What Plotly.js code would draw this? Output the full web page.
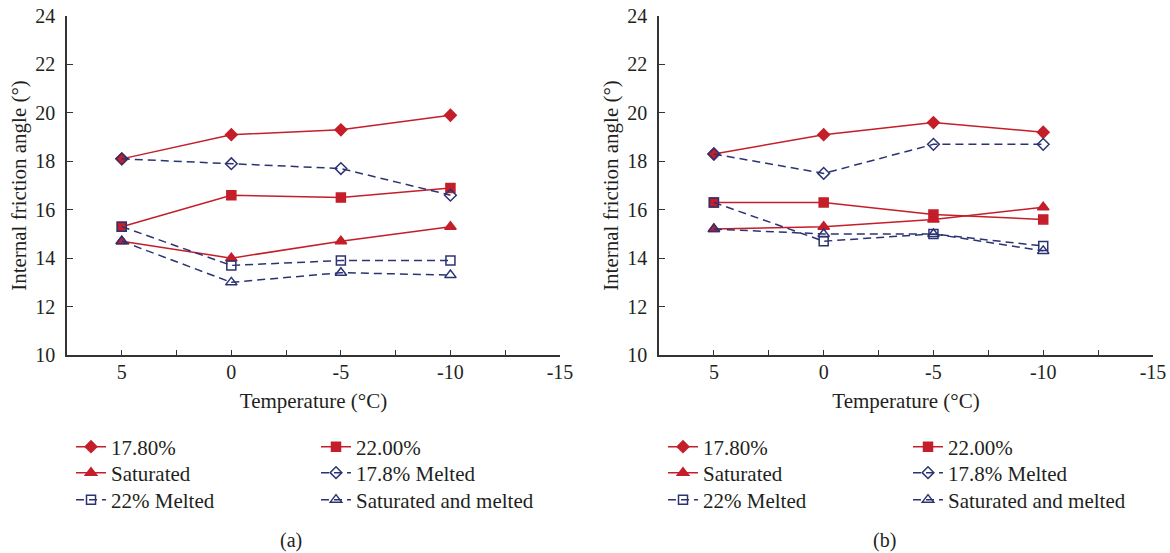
<!DOCTYPE html>
<html>
<head>
<meta charset="utf-8">
<script src="https://cdn.plot.ly/plotly-3.0.1.min.js"></script>
<style>
  html, body { margin: 0; padding: 0; background: #ffffff; }
  #chart { width: 1170px; height: 553px; }
</style>
</head>
<body>
<div id="chart"></div>
<script>
// ---- data ----
const temperatures = [5, 0, -5, -10];
const seriesNames = ["17.80%", "22.00%", "Saturated", "17.8% Melted", "22% Melted", "Saturated and melted"];

// panel (a)
const a_178 = [18.1, 19.1, 19.3, 19.9];
const a_220 = [15.3, 16.6, 16.5, 16.9];
const a_sat = [14.7, 14.0, 14.7, 15.3];
const a_178m = [18.1, 17.9, 17.7, 16.6];
const a_22m = [15.3, 13.7, 13.9, 13.9];
const a_satm = [14.7, 13.0, 13.4, 13.3];

// panel (b)
const b_178 = [18.3, 19.1, 19.6, 19.2];
const b_220 = [16.3, 16.3, 15.8, 15.6];
const b_sat = [15.2, 15.3, 15.6, 16.1];
const b_178m = [18.3, 17.5, 18.7, 18.7];
const b_22m = [16.3, 14.7, 15.0, 14.5];
const b_satm = [15.2, 15.0, 15.0, 14.3];

const xTickVals = [5, 0, -5, -10, -15];
const xTickText = ["5", "0", "-5", "-10", "-15"];
const yTickVals = [10, 12, 14, 16, 18, 20, 22, 24];

// ---- styles ----
const RED = "#c41e2a";
const NAVY = "#2b3372";
const TXT = "#231f20";
const FONT = "Liberation Serif";

const styles = [
  {color: RED, dash: "solid", symbol: "diamond", size: 9},
  {color: RED, dash: "solid", symbol: "square", size: 9},
  {color: RED, dash: "solid", symbol: "triangle-up", size: 10},
  {color: NAVY, dash: "8px,5px", symbol: "diamond-open", size: 9},
  {color: NAVY, dash: "8px,5px", symbol: "square-open", size: 9},
  {color: NAVY, dash: "8px,5px", symbol: "triangle-up-open", size: 10}
];

const panelA = [a_178, a_220, a_sat, a_178m, a_22m, a_satm];
const panelB = [b_178, b_220, b_sat, b_178m, b_22m, b_satm];

// legend rows: row index for each series (0..2), 2 items per row
const rowOf = [0, 0, 1, 1, 2, 2];

const traces = [];
function addPanel(values, xa, ya, legendBase) {
  values.forEach((vals, i) => {
    const s = styles[i];
    const legId = rowOf[i] + legendBase;
    traces.push({
      type: "scatter",
      mode: "lines+markers",
      x: temperatures,
      y: vals,
      name: seriesNames[i],
      xaxis: xa,
      yaxis: ya,
      legend: legId === 1 ? "legend" : "legend" + legId,
      line: {color: s.color, width: 1.5, dash: s.dash},
      marker: {
        symbol: s.symbol,
        size: s.size,
        color: s.color,
        line: {color: s.color, width: 1.5}
      },
      hoverinfo: "x+y+name"
    });
  });
}
addPanel(panelA, "x", "y", 1);
addPanel(panelB, "x2", "y2", 4);

const W = 1170, H = 553;
const px = v => v / W;
const py = v => (H - v) / H;

function xAxis(d0, d1, anchor) {
  return {
    domain: [px(d0), px(d1)],
    anchor: anchor,
    range: [7.5, -15],
    tickvals: xTickVals,
    ticktext: xTickText,
    ticks: "inside",
    ticklen: 5,
    tickwidth: 1.2,
    tickcolor: "#333333",
    minor: {dtick: 2.5, tick0: 0, ticks: "inside", ticklen: 5, tickwidth: 1.2, tickcolor: "#333333", showgrid: false},
    showline: true,
    linecolor: "#333333",
    linewidth: 1.5,
    showgrid: false,
    zeroline: false,
    ticklabelstandoff: -2,
    tickfont: {family: FONT, size: 20, color: TXT},
    title: {text: "Temperature (°C)", font: {family: FONT, size: 21, color: TXT}, standoff: 12},
    automargin: false,
    fixedrange: true
  };
}
function yAxis(anchor) {
  return {
    domain: [py(355), py(16)],
    anchor: anchor,
    range: [10, 24],
    tickvals: yTickVals,
    ticks: "inside",
    ticklen: 6,
    tickwidth: 1.2,
    tickcolor: "#333333",
    showline: true,
    linecolor: "#333333",
    linewidth: 1.5,
    showgrid: false,
    zeroline: false,
    ticklabelstandoff: 6,
    tickfont: {family: FONT, size: 20, color: TXT},
    title: {text: "Internal friction angle (°)", font: {family: FONT, size: 21, color: TXT}, standoff: 3},
    automargin: false,
    fixedrange: true
  };
}

function legendAt(xLeft, yCenter) {
  return {
    orientation: "h",
    x: px(xLeft),
    y: py(yCenter),
    xanchor: "left",
    yanchor: "middle",
    entrywidth: 200,
    entrywidthmode: "pixels",
    bgcolor: "rgba(0,0,0,0)",
    borderwidth: 0,
    font: {family: FONT, size: 21, color: TXT},
    itemclick: false,
    itemdoubleclick: false
  };
}

const rowsY = [447, 473, 500];

const layout = {
  width: W,
  height: H,
  margin: {l: 0, r: 0, t: 0, b: 0, pad: 0},
  paper_bgcolor: "#ffffff",
  plot_bgcolor: "#ffffff",
  font: {family: FONT, color: TXT},
  xaxis: xAxis(67, 560, "y"),
  yaxis: yAxis("x"),
  xaxis2: xAxis(659, 1153, "y2"),
  yaxis2: yAxis("x2"),
  legend: legendAt(71, rowsY[0]),
  legend2: legendAt(71, rowsY[1]),
  legend3: legendAt(71, rowsY[2]),
  legend4: legendAt(663, rowsY[0]),
  legend5: legendAt(663, rowsY[1]),
  legend6: legendAt(663, rowsY[2]),
  showlegend: true,
  annotations: [
    {text: "(a)", x: px(291), y: py(540), xref: "paper", yref: "paper", showarrow: false,
     xanchor: "center", yanchor: "middle", font: {family: FONT, size: 20, color: TXT}},
    {text: "(b)", x: px(884), y: py(540), xref: "paper", yref: "paper", showarrow: false,
     xanchor: "center", yanchor: "middle", font: {family: FONT, size: 20, color: TXT}}
  ]
};

Plotly.newPlot("chart", traces, layout, {displayModeBar: false, staticPlot: false});
</script>
</body>
</html>
